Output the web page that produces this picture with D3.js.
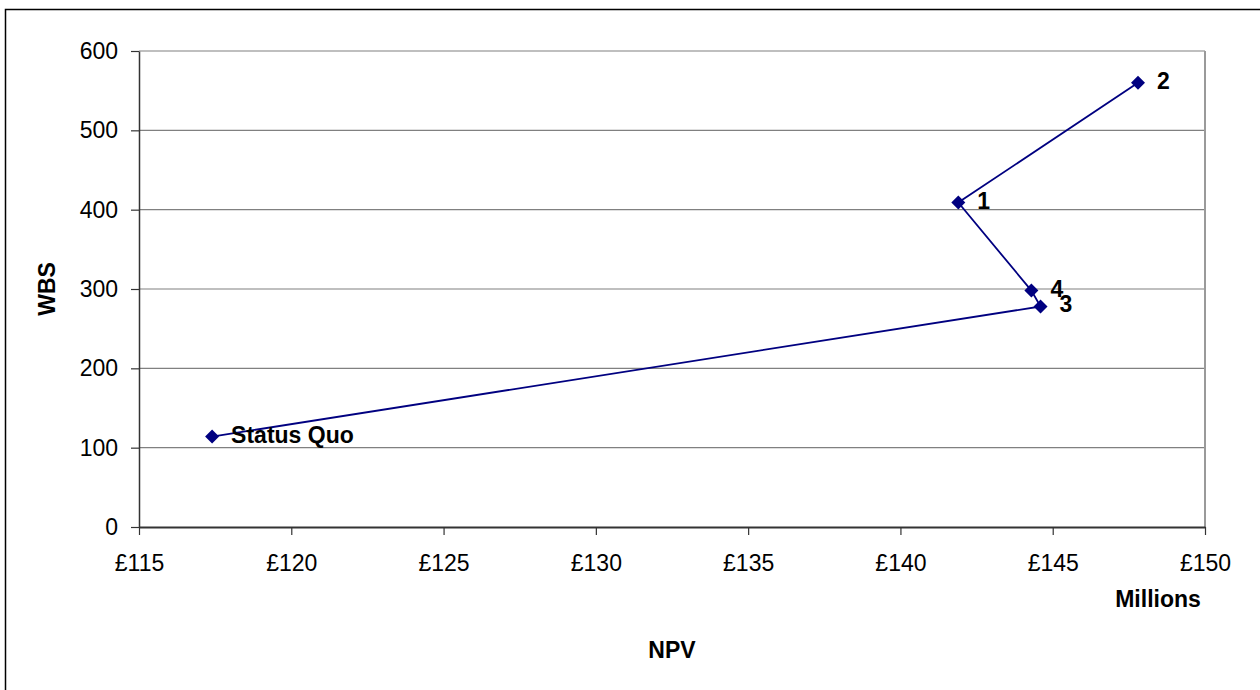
<!DOCTYPE html>
<html>
<head>
<meta charset="utf-8">
<script src="https://cdn.jsdelivr.net/npm/d3@7/dist/d3.min.js"></script>
<style>
  html, body { margin: 0; padding: 0; background: #fff; }
  svg { display: block; font-family: "Liberation Sans", Arial, sans-serif; }
</style>
</head>
<body>
<svg id="chart" width="1260" height="690"></svg>
<script>
// Options compared by net present value (£ millions) and WBS score
const labels = ["Status Quo", "3", "4", "1", "2"];
const npv = [117.4, 144.6, 144.3, 141.9, 147.8];
const wbs = [114, 278, 298, 409, 560];
const xTicks = [115, 120, 125, 130, 135, 140, 145, 150];
const yTicks = [0, 100, 200, 300, 400, 500, 600];

const svg = d3.select("#chart");
const W = 1260, H = 690;
const plot = { left: 139, right: 1205, top: 51, bottom: 527 };

// outer chart frame (runs off the right and bottom edges)
svg.append("rect")
  .attr("x", 5.5).attr("y", 9.5)
  .attr("width", 1400).attr("height", 800)
  .attr("fill", "#fff").attr("stroke", "#000").attr("stroke-width", 1.5);

const x = d3.scaleLinear().domain([115, 150]).range([plot.left, plot.right]);
const y = d3.scaleLinear().domain([0, 600]).range([plot.bottom, plot.top]);

// horizontal gridlines
svg.append("g")
  .selectAll("line")
  .data(yTicks.filter(t => t > 0))
  .join("line")
  .attr("x1", plot.left).attr("x2", plot.right)
  .attr("y1", d => y(d)).attr("y2", d => y(d))
  .attr("stroke", "#808080").attr("stroke-width", 1.2);

// right border of plot area
svg.append("line")
  .attr("x1", plot.right).attr("x2", plot.right)
  .attr("y1", plot.top).attr("y2", plot.bottom)
  .attr("stroke", "#9a9a9a").attr("stroke-width", 2);

// y axis
const yAxis = d3.axisLeft(y).tickValues(yTicks).tickSize(8).tickPadding(13).tickSizeOuter(0);
const gy = svg.append("g").attr("transform", `translate(${plot.left},0)`).call(yAxis);
gy.select(".domain").attr("stroke", "#333").attr("stroke-width", 1.5);
gy.selectAll(".tick line").attr("stroke", "#333").attr("stroke-width", 1.2);
gy.selectAll(".tick text").attr("font-size", 23).attr("fill", "#000")
  .attr("font-family", "Liberation Sans, Arial, sans-serif");

// x axis
const xAxis = d3.axisBottom(x).tickValues(xTicks).tickSize(8).tickPadding(20).tickSizeOuter(0)
  .tickFormat(d => "£" + d);
const gx = svg.append("g").attr("transform", `translate(0,${plot.bottom})`).call(xAxis);
gx.select(".domain").attr("stroke", "#333").attr("stroke-width", 2);
gx.selectAll(".tick line").attr("stroke", "#333").attr("stroke-width", 1.2);
gx.selectAll(".tick text").attr("font-size", 23).attr("fill", "#000")
  .attr("font-family", "Liberation Sans, Arial, sans-serif");

// axis titles
svg.append("text").attr("x", 1158).attr("y", 607)
  .attr("text-anchor", "middle").attr("font-size", 23).attr("font-weight", "bold")
  .text("Millions");
svg.append("text").attr("x", 672).attr("y", 658)
  .attr("text-anchor", "middle").attr("font-size", 23).attr("font-weight", "bold")
  .text("NPV");
svg.append("text")
  .attr("transform", "translate(55,289) rotate(-90)")
  .attr("text-anchor", "middle").attr("font-size", 23).attr("font-weight", "bold")
  .text("WBS");

// series line
const pts = labels.map((l, i) => ({ label: l, x: npv[i], y: wbs[i] }));
svg.append("path")
  .datum(pts)
  .attr("fill", "none").attr("stroke", "#000080").attr("stroke-width", 1.8)
  .attr("d", d3.line().x(d => x(d.x)).y(d => y(d.y)));

// diamond markers
svg.append("g")
  .selectAll("path")
  .data(pts)
  .join("path")
  .attr("transform", d => `translate(${x(d.x)},${y(d.y)})`)
  .attr("d", "M0,-7L7,0L0,7L-7,0Z")
  .attr("fill", "#000080");

// point labels
svg.append("g")
  .selectAll("text")
  .data(pts)
  .join("text")
  .attr("x", d => x(d.x) + 19)
  .attr("y", d => y(d.y) + 6)
  .attr("font-size", 23).attr("font-weight", "bold").attr("fill", "#000")
  .text(d => d.label);
</script>
</body>
</html>
